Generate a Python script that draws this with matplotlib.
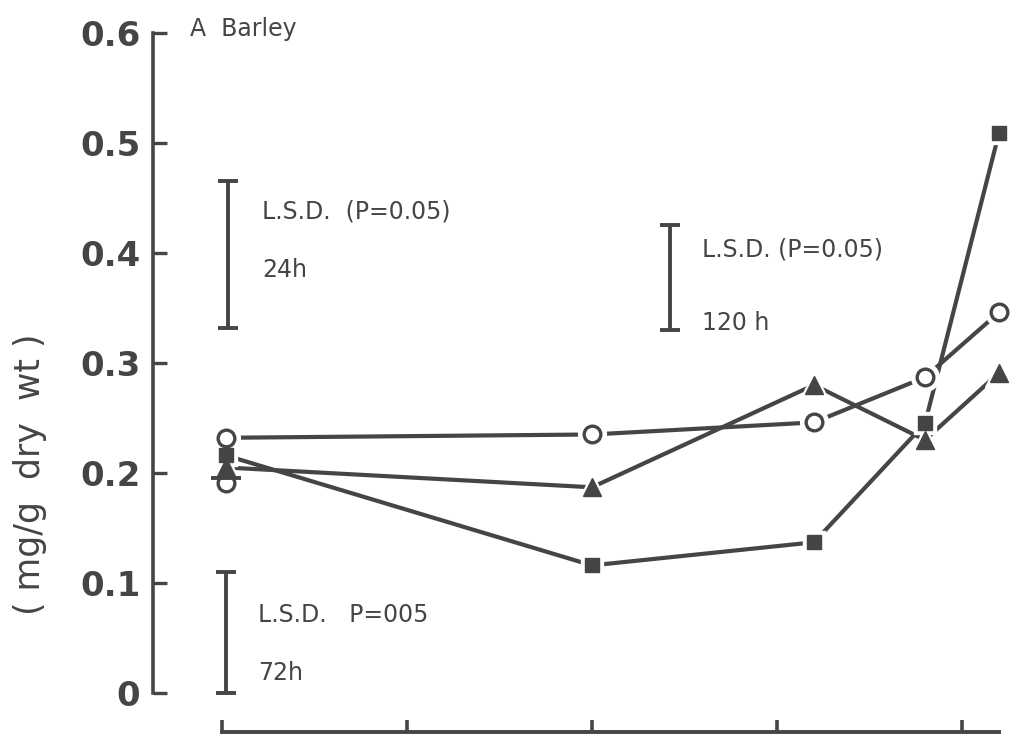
import matplotlib
matplotlib.use("Agg")
import matplotlib.pyplot as plt

# ---- data (x in tick units, y in mg/g dry wt) ----
x_pts = [0.02, 2.0, 3.2, 3.8, 4.2]
circle_vals = [0.232, 0.235, 0.246, 0.287, 0.346]
triangle_vals = [0.205, 0.187, 0.280, 0.230, 0.291]
square_vals = [0.216, 0.116, 0.137, 0.245, 0.509]
extra_circle_x = 0.02
extra_circle_val = 0.191

yticks = [0, 0.1, 0.2, 0.3, 0.4, 0.5, 0.6]
ytick_labels = ["0", "0.1", "0.2", "0.3", "0.4", "0.5", "0.6"]
xticks = [0, 1, 2, 3, 4]

# LSD bars: (x, low, high, line1, line2)
lsd_x = [0.035, 2.42, 0.02]
lsd_low = [0.332, 0.330, 0.0]
lsd_high = [0.465, 0.425, 0.110]
lsd_line1 = ["L.S.D.  (P=0.05)", "L.S.D. (P=0.05)", "L.S.D.   P=005"]
lsd_line2 = ["24h", "120 h", "72h"]

C = "#454545"
W, H = 1011, 735
fig = plt.figure(figsize=(W / 100, H / 100), dpi=100)
ax_left = 153 / W
ax = fig.add_axes([ax_left, 0, 1 - ax_left, 1])
ax.set_xlim(-0.373, 4.265)
ax.set_ylim(-0.0382, 0.630)

for s in ["top", "right"]:
    ax.spines[s].set_visible(False)
ax.spines["left"].set_bounds(0, 0.6)
ax.spines["left"].set_color(C)
ax.spines["left"].set_linewidth(2.6)
ax.spines["bottom"].set_position(("data", -0.0355))
ax.spines["bottom"].set_bounds(0, 4.2)
ax.spines["bottom"].set_color(C)
ax.spines["bottom"].set_linewidth(2.8)

ax.set_yticks(yticks)
ax.set_yticklabels(ytick_labels)
ax.tick_params(axis="y", direction="in", length=10, width=2.4, color=C,
               pad=9, labelsize=24.5, labelcolor=C)
for lab in ax.get_yticklabels():
    lab.set_fontweight("bold")
ax.set_xticks(xticks)
ax.set_xticklabels([""] * len(xticks))
ax.tick_params(axis="x", direction="in", length=9, width=2.6, color=C)

lw = 3.0
halo = dict(color="white", linestyle="none", zorder=3)
# lines
ax.plot(x_pts, circle_vals, color=C, lw=lw, zorder=2, solid_capstyle="round")
ax.plot(x_pts, triangle_vals, color=C, lw=lw, zorder=2, solid_capstyle="round")
ax.plot(x_pts, square_vals, color=C, lw=lw, zorder=2, solid_capstyle="round")
# white halos for gaps
ax.plot(x_pts, circle_vals, marker="o", markersize=20, markerfacecolor="white",
        markeredgecolor="white", **halo)
ax.plot(x_pts, triangle_vals, marker="^", markersize=20, markerfacecolor="white",
        markeredgecolor="white", **halo)
ax.plot(x_pts, square_vals, marker="s", markersize=16, markerfacecolor="white",
        markeredgecolor="white", **halo)
# markers
ax.plot(x_pts, circle_vals, marker="o", markersize=12, markerfacecolor="white",
        markeredgecolor=C, markeredgewidth=2.4, linestyle="none", zorder=5)
ax.plot(x_pts, triangle_vals, marker="^", markersize=13, markerfacecolor=C,
        markeredgecolor=C, linestyle="none", zorder=5)
ax.plot(x_pts, square_vals, marker="s", markersize=10.5, markerfacecolor=C,
        markeredgecolor=C, linestyle="none", zorder=5)
# extra initial circle with dash
ax.plot([extra_circle_x], [extra_circle_val], marker="o", markersize=12,
        markerfacecolor="white", markeredgecolor=C, markeredgewidth=2.4,
        linestyle="none", zorder=5)
ax.plot([extra_circle_x], [extra_circle_val + 0.004], marker="_", markersize=21,
        markeredgecolor=C, markeredgewidth=2.8, linestyle="none", zorder=6)

# LSD bars
for xv, lo, hi in zip(lsd_x, lsd_low, lsd_high):
    ax.errorbar([xv], [(lo + hi) / 2], yerr=[[(hi - lo) / 2], [(hi - lo) / 2]],
                fmt="none", ecolor=C, elinewidth=2.8, capsize=7, capthick=2.8,
                zorder=4)

def px(xp, yp):
    return xp / W, 1 - yp / H

lsd_pos1 = [(262, 218), (702, 257), (258, 622)]
lsd_pos2 = [(262, 277), (702, 330), (258, 680)]
for t1, t2, p1, p2 in zip(lsd_line1, lsd_line2, lsd_pos1, lsd_pos2):
    fig.text(*px(*p1), t1, fontsize=17, color=C, va="baseline", ha="left")
    fig.text(*px(*p2), t2, fontsize=17, color=C, va="baseline", ha="left")

fig.text(*px(190, 36), "A  Barley", fontsize=17, color=C, va="baseline", ha="left")
fig.text(*px(30, 474), "( mg/g  dry  wt )", fontsize=25, color=C, rotation=90,
         va="center", ha="center")

fig.savefig("out.png", dpi=100)
